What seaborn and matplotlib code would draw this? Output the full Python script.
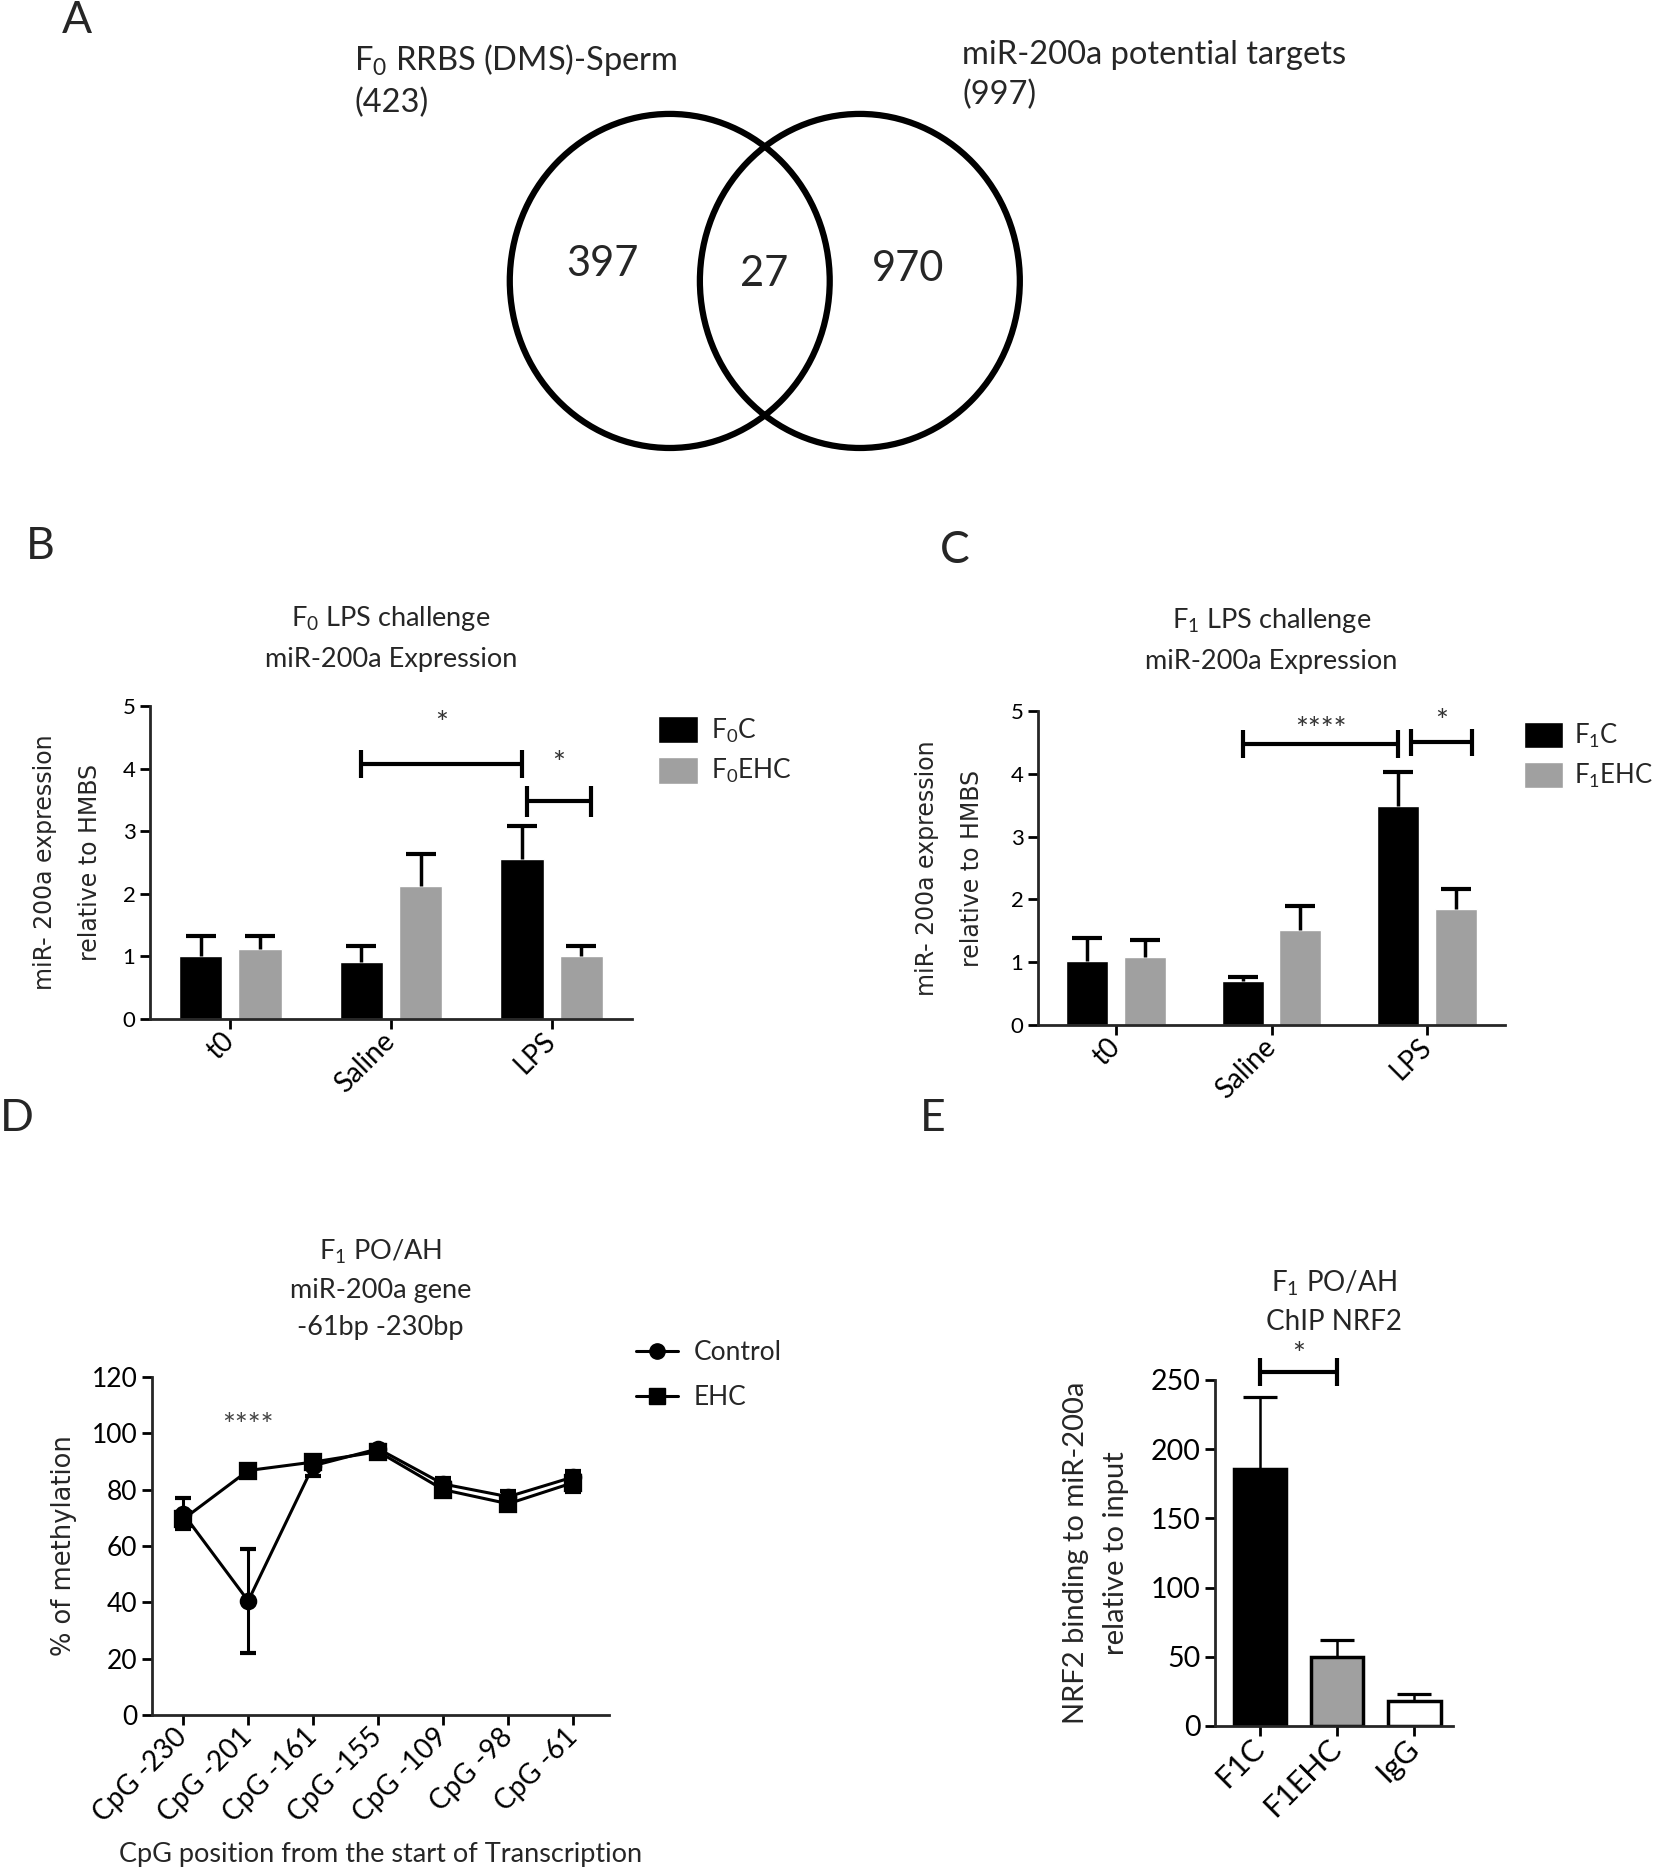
import numpy as np
import pandas as pd
import matplotlib.pyplot as plt
from matplotlib.patches import Ellipse, Patch
from matplotlib.lines import Line2D
import seaborn as sns

# --- A: Venn ---
venn_sets = ["F$_0$ RRBS (DMS)-Sperm", "miR-200a potential targets"]
venn_totals = [423, 997]
venn_counts = [397, 27, 970]  # solo izquierda, ambos, solo derecha

# --- B / C: miR-200a expression ---
groups = ["t0", "Saline", "LPS"]
f0_labels = ["F$_0$C", "F$_0$EHC"]
f0_ctrl = [1.01, 0.91, 2.55]
f0_ctrl_err = [0.32, 0.25, 0.54]
f0_ehc = [1.12, 2.12, 1.01]
f0_ehc_err = [0.21, 0.51, 0.15]

f1_labels = ["F$_1$C", "F$_1$EHC"]
f1_ctrl = [1.02, 0.70, 3.49]
f1_ctrl_err = [0.37, 0.07, 0.54]
f1_ehc = [1.09, 1.51, 1.84]
f1_ehc_err = [0.26, 0.38, 0.33]

# --- D: methylation ---
cpg_sites = ["CpG -230", "CpG -201", "CpG -161", "CpG -155", "CpG -109", "CpG -98", "CpG -61"]
meth_ctrl = [71.5, 40.5, 88.5, 94.5, 82.0, 77.5, 84.5]
meth_ctrl_err = [5.4, 18.4, 3.5, 1.5, 2.0, 2.0, 2.0]
meth_ehc = [69.5, 86.8, 89.8, 93.5, 80.0, 75.0, 82.5]
meth_ehc_err = [2.5, 1.5, 1.5, 1.5, 2.0, 2.0, 3.5]

# --- E: ChIP NRF2 ---
chip_labels = ["F1C", "F1EHC", "IgG"]
chip_vals = [186, 50, 18]
chip_err = [52, 12, 5]

GRAY = "#a0a0a0"
W, H = 1654, 1872


def fx(x):
    return x / W


def fy(y):
    return 1 - y / H


sns.set_theme(style="ticks")
plt.rcParams["font.family"] = ["Lato", "DejaVu Sans"]
plt.rcParams["mathtext.default"] = "regular"
plt.rcParams["axes.linewidth"] = 2

fig = plt.figure(figsize=(W / 100, H / 100), dpi=100)


def style_axes(ax, ysize, xsize):
    sns.despine(ax=ax)
    ax.tick_params(width=2, length=7, color="black", labelcolor="black")
    ax.tick_params(axis="y", labelsize=ysize)
    ax.tick_params(axis="x", labelsize=xsize, pad=6)
    ax.set_xlabel("")
    for lab in ax.get_xticklabels():
        lab.set_rotation(45)
        lab.set_ha("right")
        lab.set_va("center")
        lab.set_rotation_mode("anchor")


def up_errors(ax, xs, ys, errs, lw=2.5, cap=22):
    tops = np.array(ys) + np.array(errs)
    ax.vlines(xs, ys, tops, color="black", lw=lw, zorder=3)
    ax.plot(xs, tops, ls="none", marker="_", ms=cap, mew=lw + 0.5, color="black", zorder=3)


def bracket(ax, x1, x2, y, cap, text, ty, size=22):
    kw = dict(color="black", lw=3, clip_on=False, solid_capstyle="butt")
    ax.plot([x1, x2], [y, y], **kw)
    ax.plot([x1, x1], [y - cap, y + cap], **kw)
    ax.plot([x2, x2], [y - cap, y + cap], **kw)
    ax.text((x1 + x2) / 2, ty, text, ha="center", va="center", fontsize=size, color="#333333")


# ---------------- A ----------------
fig.text(fx(62), fy(0), "A", fontsize=32, va="top", ha="left")
ax_v = fig.add_axes([fx(470), fy(470), (1070 - 470) / W, 380 / H])
for cx in (-0.503, 0.503):
    ax_v.add_patch(Ellipse((cx, 0), 1.693, 1.767, fill=False, lw=4.5, ec="black"))
ax_v.set_xlim(-1.56, 1.615)
ax_v.set_ylim(-1.0, 1.01)
ax_v.axis("off")
for (tx, ty), n in zip([(-0.86, 0.09), (-0.005, 0.037), (0.76, 0.063)], venn_counts):
    ax_v.text(tx, ty, str(n), ha="center", va="center", fontsize=30)
fig.text(fx(354), fy(42), f"{venn_sets[0]}\n({venn_totals[0]})", ha="left", va="top",
         fontsize=23.5, linespacing=1.4)
fig.text(fx(962), fy(40), f"{venn_sets[1]}\n({venn_totals[1]})", ha="left", va="top",
         fontsize=23.5, linespacing=1.4)


# ---------------- B / C ----------------
def expr_panel(ax, ctrl, ctrl_err, ehc, ehc_err, labels, title, pad, ylab_x):
    df = pd.DataFrame({
        "group": groups * 2,
        "cond": [labels[0]] * 3 + [labels[1]] * 3,
        "val": ctrl + ehc,
    })
    sns.barplot(data=df, x="group", y="val", hue="cond", palette=["black", GRAY],
                saturation=1, width=0.74, gap=0.27, errorbar=None, legend=False, ax=ax)
    centers = []
    for cont, err in zip(ax.containers, [ctrl_err, ehc_err]):
        xs = [b.get_x() + b.get_width() / 2 for b in cont]
        ys = [b.get_height() for b in cont]
        up_errors(ax, xs, ys, err)
        centers.append(xs)
    ax.set_ylim(0, 5)
    ax.set_xlim(-0.5, 2.5)
    ax.set_yticks(range(6))
    style_axes(ax, 16, 20)
    ax.set_ylabel("miR- 200a expression\nrelative to HMBS", fontsize=17,
                  family="DejaVu Sans", linespacing=2.1)
    ax.yaxis.set_label_coords(ylab_x, 0.5)
    ax.set_title(title, fontsize=19.5, linespacing=1.7, pad=pad)
    return centers


ax_b = fig.add_axes([fx(150), fy(1019), (632 - 150) / W, 313 / H])
cb = expr_panel(ax_b, f0_ctrl, f0_ctrl_err, f0_ehc, f0_ehc_err, f0_labels,
                "F$_0$ LPS challenge\nmiR-200a Expression", 28, -0.1)
bracket(ax_b, cb[0][1], cb[0][2], 4.07, 0.22, "*", 4.72)
bracket(ax_b, cb[0][2] + 0.03, cb[1][2] + 0.06, 3.48, 0.25, "*", 4.08)
fig.text(fx(26), fy(526), "B", fontsize=32, va="top", ha="left")
fig.legend(handles=[Patch(fc="black"), Patch(fc=GRAY)], labels=f0_labels,
           loc="upper left", bbox_to_anchor=(fx(658), fy(716)), frameon=False, fontsize=19,
           handlelength=1.5, handleheight=1.2, handletextpad=0.5, labelspacing=0.45,
           borderaxespad=0, borderpad=0)

ax_c = fig.add_axes([fx(1038), fy(1025), (1505 - 1038) / W, 314 / H])
cc = expr_panel(ax_c, f1_ctrl, f1_ctrl_err, f1_ehc, f1_ehc_err, f1_labels,
                "F$_1$ LPS challenge\nmiR-200a Expression", 30, -0.115)
bracket(ax_c, cc[0][1], cc[0][2], 4.47, 0.22, "****", 4.7)
bracket(ax_c, cc[0][2] + 0.08, cc[1][2] + 0.1, 4.5, 0.22, "*", 4.82)
fig.text(fx(940), fy(530), "C", fontsize=32, va="top", ha="left")
fig.legend(handles=[Patch(fc="black"), Patch(fc=GRAY)], labels=f1_labels,
           loc="upper left", bbox_to_anchor=(fx(1524), fy(722)), frameon=False, fontsize=18.5,
           handlelength=1.5, handleheight=1.2, handletextpad=0.45, labelspacing=0.45,
           borderaxespad=0, borderpad=0)

# ---------------- D ----------------
ax_d = fig.add_axes([fx(152), fy(1715), (609 - 152) / W, (1715 - 1377) / H])
df_d = pd.DataFrame({
    "site": cpg_sites * 2,
    "group": ["Control"] * 7 + ["EHC"] * 7,
    "meth": meth_ctrl + meth_ehc,
})
sns.pointplot(data=df_d, x="site", y="meth", hue="group", palette=["black", "black"],
              markers=["o", "s"], linestyles=["-", "-"], errorbar=None,
              markersize=11, linewidth=2.2, legend=False, ax=ax_d)
pos = np.arange(len(cpg_sites))
for vals, errs in [(meth_ctrl, meth_ctrl_err), (meth_ehc, meth_ehc_err)]:
    ax_d.errorbar(pos, vals, yerr=errs, fmt="none", ecolor="black", elinewidth=2.2,
                  capsize=6, capthick=3)
ax_d.set_ylim(0, 120)
ax_d.set_yticks(range(0, 121, 20))
ax_d.set_xlim(-0.48, 6.55)
style_axes(ax_d, 19, 20)
ax_d.set_ylabel("% of methylation", fontsize=18.5, family="DejaVu Sans")
ax_d.yaxis.set_label_coords(-0.165, 0.5)
ax_d.set_xlabel("CpG position from the start of Transcription", fontsize=19.5)
ax_d.xaxis.set_label_coords(0.5, -0.375)
ax_d.set_title("F$_1$ PO/AH\nmiR-200a gene\n-61bp -230bp", fontsize=19.5, linespacing=1.6, pad=30)
ax_d.text(1, 102.5, "****", ha="center", va="center", fontsize=22, color="#444444")
fig.text(fx(0), fy(1098), "D", fontsize=32, va="top", ha="left")
fig.legend(handles=[Line2D([], [], color="black", marker="o", ms=11, lw=2.2),
                    Line2D([], [], color="black", marker="s", ms=11, lw=2.2)],
           labels=["Control", "EHC"], loc="upper left", bbox_to_anchor=(fx(636), fy(1340)),
           frameon=False, fontsize=19, handlelength=1.6, handletextpad=0.6,
           labelspacing=0.75, borderaxespad=0, borderpad=0)

# ---------------- E ----------------
ax_e = fig.add_axes([fx(1215), fy(1726), (1453 - 1215) / W, 346 / H])
sns.barplot(x=chip_labels, y=chip_vals, hue=chip_labels, palette=["black", GRAY, "white"],
            saturation=1, width=0.68, edgecolor="black", linewidth=2.5, errorbar=None,
            legend=False, ax=ax_e)
ex = [p.get_x() + p.get_width() / 2 for p in ax_e.patches]
eh = [p.get_height() for p in ax_e.patches]
up_errors(ax_e, ex, eh, chip_err, lw=1.8, cap=24)
ax_e.set_ylim(0, 250)
ax_e.set_yticks(range(0, 251, 50))
ax_e.set_xlim(-0.58, 2.5)
style_axes(ax_e, 20.5, 22)
ax_e.set_ylabel("NRF2 binding to miR-200a\nrelative to input", fontsize=21, linespacing=1.7)
ax_e.yaxis.set_label_coords(-0.36, 0.5)
ax_e.set_title("F$_1$ PO/AH\nChIP NRF2", fontsize=20, linespacing=1.5, pad=36)
bracket(ax_e, ex[0], ex[1], 256, 10, "*", 268)
fig.text(fx(920), fy(1098), "E", fontsize=32, va="top", ha="left")

fig.savefig("out.png", dpi=100)
